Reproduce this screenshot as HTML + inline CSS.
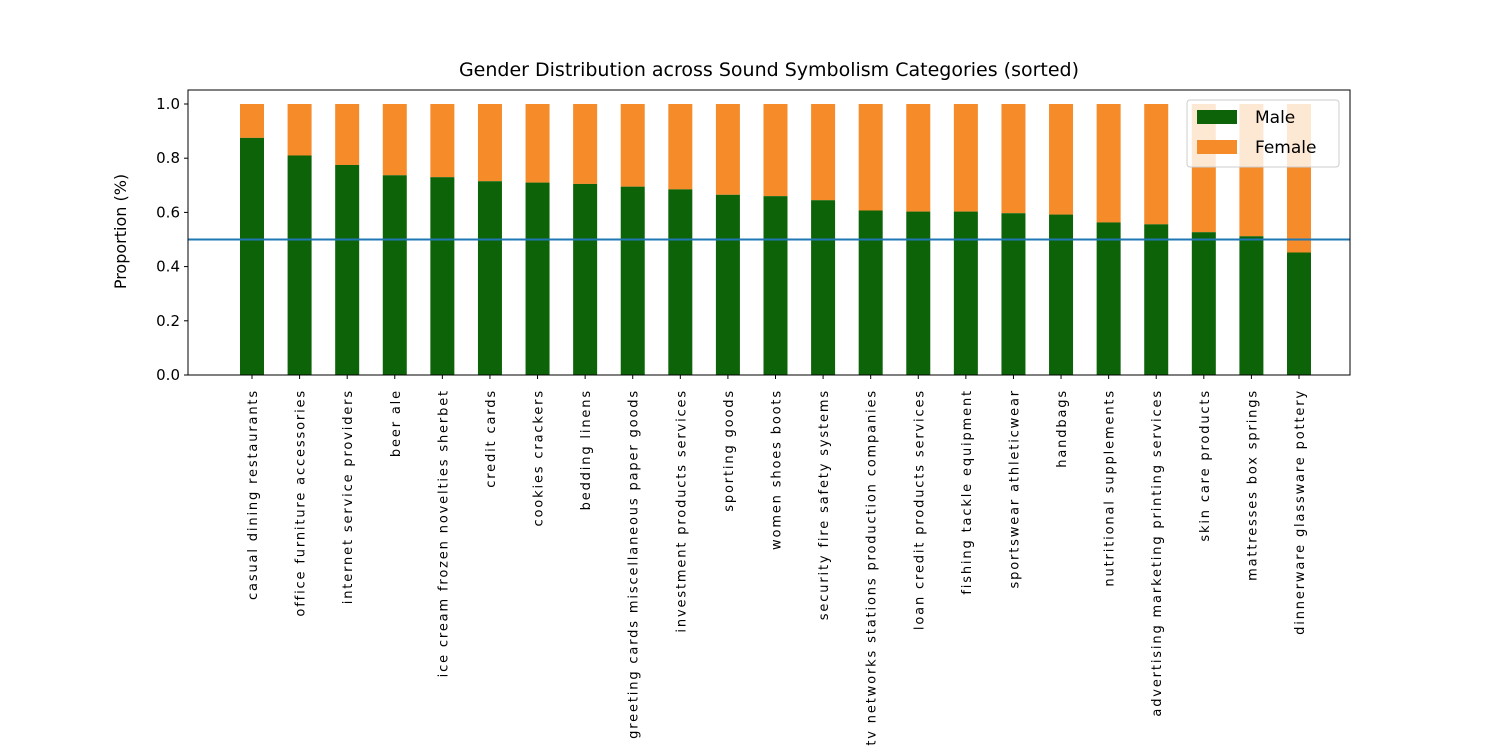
<!DOCTYPE html>
<html><head><meta charset="utf-8"><style>body{margin:0;background:#fff}svg{font-family:"DejaVu Sans","Liberation Sans",sans-serif}</style></head>
<body>
<svg id="c" width="1500" height="750" xmlns="http://www.w3.org/2000/svg"></svg>
<script>
const categories=["casual dining restaurants","office furniture accessories","internet service providers","beer ale","ice cream frozen novelties sherbet","credit cards","cookies crackers","bedding linens","greeting cards miscellaneous paper goods","investment products services","sporting goods","women shoes boots","security fire safety systems","tv networks stations production companies","loan credit products services","fishing tackle equipment","sportswear athleticwear","handbags","nutritional supplements","advertising marketing printing services","skin care products","mattresses box springs","dinnerware glassware pottery"];
const maleValues=[0.875,0.81,0.775,0.737,0.73,0.715,0.71,0.705,0.695,0.685,0.665,0.66,0.645,0.607,0.603,0.603,0.597,0.592,0.563,0.556,0.527,0.512,0.452];
const yTicks=[0,0.2,0.4,0.6,0.8,1.0];
const refLine=0.5;
const svg=document.getElementById('c');const NS="http://www.w3.org/2000/svg";
function mk(t,a,p){const e=document.createElementNS(NS,t);for(const k in a)e.setAttribute(k,a[k]);(p||svg).appendChild(e);return e;}
const L=188,R=1350,T=90,B=375;
const y=v=>B-v*271;
const x=i=>252+i*(1299-252)/(categories.length-1);
const bw=24;
categories.forEach((c,i)=>{
 const m=maleValues[i];
 const f=mk('rect',{x:x(i)-bw/2,y:y(1),width:bw,height:y(m)-y(1),fill:'#f68b2a'});
 
 
 const r=mk('rect',{x:x(i)-bw/2,y:y(m),width:bw,height:B-y(m),fill:'#0c6308'});
 
 
 mk('line',{x1:x(i),x2:x(i),y1:B,y2:B+4,stroke:'#000'});
 const t=mk('text',{x:0,y:0,'font-size':'13','letter-spacing':'1.85','text-anchor':'end',transform:`translate(${x(i)+5},${B+14}) rotate(-90)`});
 t.textContent=c;
 
 
});
const rl=mk('line',{x1:L,x2:R,y1:y(refLine),y2:y(refLine),stroke:'#1f77b4','stroke-width':2});


yTicks.forEach(v=>{
 mk('line',{x1:L-4,x2:L,y1:y(v),y2:y(v),stroke:'#000'});
 const t=mk('text',{x:L-8,y:y(v)+5,'font-size':'15','text-anchor':'end'});
 t.textContent=v.toFixed(1);
 
 
});
mk('rect',{x:L,y:T,width:R-L,height:B-T,fill:'none',stroke:'#000','stroke-width':1});
const yt=mk('text',{x:0,y:0,'font-size':'16','text-anchor':'middle',transform:`translate(126,${(T+B)/2-1}) rotate(-90)`});
yt.textContent='Proportion (%)';


const ti=mk('text',{x:769,y:76,'font-size':'19','text-anchor':'middle'});
ti.textContent='Gender Distribution across Sound Symbolism Categories (sorted)';


const lg=mk('g',{});


mk('rect',{x:1187,y:100,width:152,height:67,rx:3,fill:'rgba(255,255,255,0.8)',stroke:'#ccc'},lg);
[['Male','#0c6308',110],['Female','#f68b2a',140]].forEach(([n,col,yy])=>{
 mk('rect',{x:1197,y:yy,width:40,height:14,fill:col},lg);
 const t=mk('text',{x:1255,y:yy+13,'font-size':'17'},lg);
 t.textContent=n;
 
 
});
</script>
</body></html>
